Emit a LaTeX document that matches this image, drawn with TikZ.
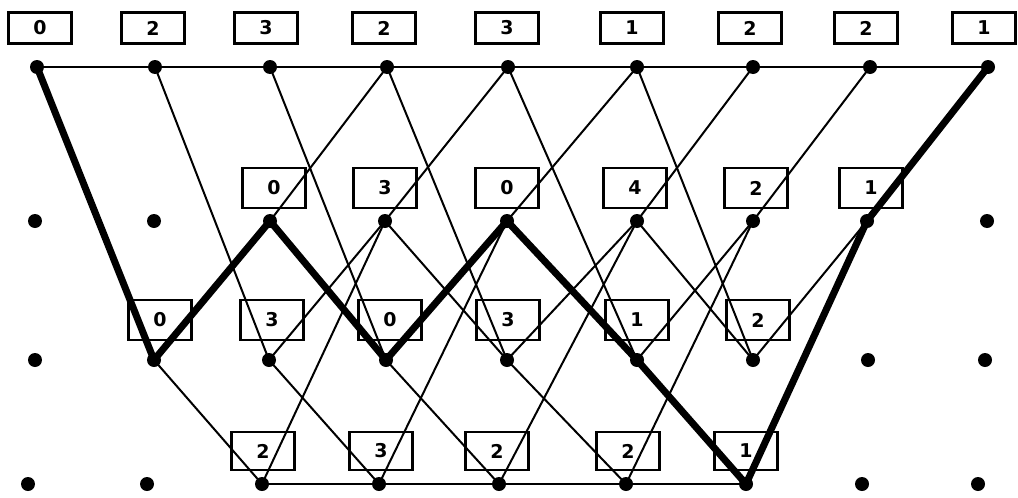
\documentclass[tikz,border=0pt]{standalone}
\usepackage{fontspec}
\setmainfont{DejaVu Sans}
\begin{document}
\begin{tikzpicture}[x=1pt,y=-1pt,
  dot/.style={circle,fill=black,inner sep=0pt,minimum size=14pt},
  lbl/.style={draw,line width=2.4pt,minimum width=63pt,inner sep=0pt,font=\fontsize{19}{19}\selectfont\bfseries},
  ln/.style={line width=2pt},
  hl/.style={line width=7pt,line join=round,line cap=round}]
\useasboundingbox (0,0) rectangle (1018,498);
% dots
\foreach \x [count=\i] in {37,155,270,387,508,637,753,870,988}
  \node[dot] (a\i) at (\x,67) {};
\foreach \x [count=\i] in {35,154,270,385,507,637,753,867,987}
  \node[dot] (b\i) at (\x,221) {};
\foreach \x [count=\i] in {35,154,269,386,507,637,753,868,985}
  \node[dot] (c\i) at (\x,360) {};
\foreach \x [count=\i] in {28,147,262,379,499,626,746,862,978}
  \node[dot] (d\i) at (\x,484) {};
% labels
\foreach \x/\t [count=\i] in {40/0,153/2,266/3,384/2,507/3,632/1,750/2,866/2,984/1}
  \node[lbl,minimum height=31pt] (la\i) at (\x,28) {\t};
\foreach \x/\t [count=\i] in {274/0,385/3,507/0,635/4,756/2,871/1}
  \node[lbl,minimum height=40pt] (lb\i) at (\x,188) {\t};
\foreach \x/\t [count=\i] in {160/0,272/3,390/0,508/3,637/1,758/2}
  \node[lbl,minimum height=40pt] (lc\i) at (\x,320) {\t};
\foreach \x/\t [count=\i] in {263/2,381/3,497/2,628/2,746/1}
  \node[lbl,minimum height=38pt] (ld\i) at (\x,451) {\t};
% horizontal lines
\draw[ln] (a1.center) -- (a9.center);
\draw[ln] (d3.center) -- (d7.center);
% row 1 to row 2 (j -> j-1)
\foreach \j/\k in {4/3,5/4,6/5,7/6,8/7}
  \draw[ln] (a\j.center) -- (b\k.center);
% row 1 to row 3 (j -> j+1)
\foreach \j/\k in {2/3,3/4,4/5,5/6,6/7}
  \draw[ln] (a\j.center) -- (c\k.center);
% row 2 to row 3
\foreach \j/\k in {4/3,6/5,7/6,8/7,4/5,6/7}
  \draw[ln] (b\j.center) -- (c\k.center);
% row 2 to row 4 (j -> j-1)
\foreach \j/\k in {4/3,5/4,6/5,7/6}
  \draw[ln] (b\j.center) -- (d\k.center);
% row 3 to row 4 (j -> j+1)
\foreach \j/\k in {2/3,3/4,4/5,5/6}
  \draw[ln] (c\j.center) -- (d\k.center);
% highlighted path
\draw[hl] (a1.center) -- (c2.center) -- (b3.center) -- (c4.center) -- (b5.center)
  -- (c6.center) -- (d7.center) -- (b8.center) -- (a9.center);
\end{tikzpicture}
\end{document}
